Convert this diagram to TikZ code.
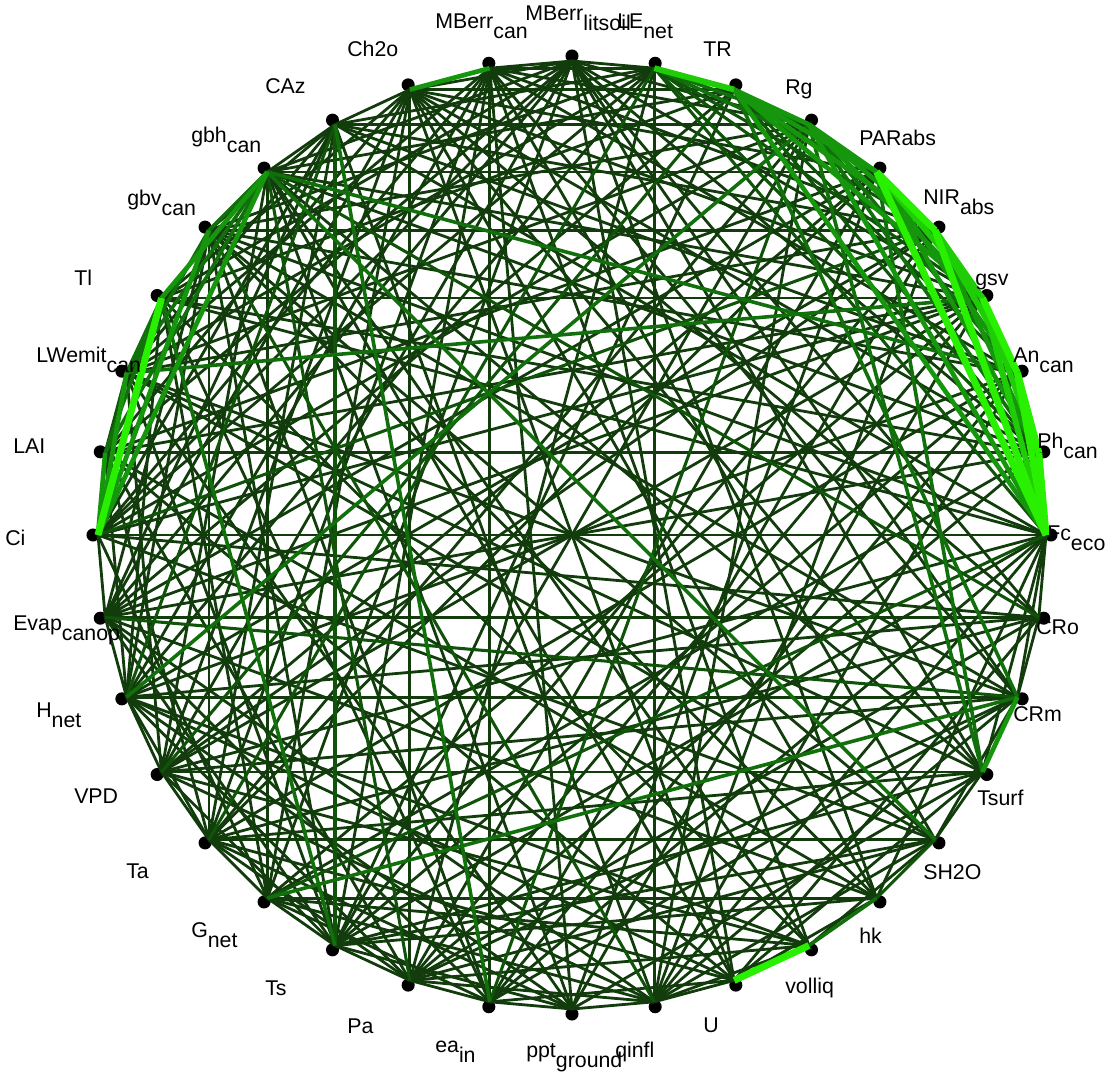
\documentclass[tikz,border=0pt]{standalone}
\usepackage{fontspec}
\setmainfont{Liberation Sans}
\newcommand{\lsb}[1]{\raisebox{-0.5em}{#1}}
\definecolor{cda}{RGB}{18,60,12}
\definecolor{cdb}{RGB}{16,84,10}
\definecolor{cgc}{RGB}{18,112,12}
\definecolor{cgd}{RGB}{22,150,12}
\definecolor{cge}{RGB}{30,205,6}
\definecolor{cgf}{RGB}{40,240,0}
\begin{document}
\begin{tikzpicture}[x=0.75pt,y=-0.75pt,
  lbl/.style={anchor=base west,inner sep=0pt,font=\fontsize{16}{19}\selectfont},
  eda/.style={draw=cda,line width=2.1pt},
  edb/.style={draw=cdb,line width=2.3pt},
  egc/.style={draw=cgc,line width=2.7pt},
  egd/.style={draw=cgd,line width=3.5pt},
  ege/.style={draw=cge,line width=4.4pt},
  egf/.style={draw=cgf,line width=5.2pt}]
\useasboundingbox (0,0) rectangle (1106,1075);
\foreach \k in {0,...,35}{
  \coordinate (n\k) at ({572+474*cos(10*\k)},{535-474*sin(10*\k)});
  \coordinate (d\k) at ({572+479*cos(10*\k)},{535-479*sin(10*\k)});}
\foreach \k in {0,...,35}
  \fill[black] (d\k) circle[radius=4.9pt];
% dark edges
\foreach \a/\b in {0/35,0/34,0/33,0/21,0/26,0/28,0/31,0/12,0/15,0/24,0/18,
 35/34,35/20,35/22,35/25,35/29,35/11,35/9,35/19,
 34/32,34/21,34/25,34/28,34/14,34/10,34/26,34/20,34/9,
 33/32,33/22,33/24,33/29,33/13,33/11,33/21,33/27,33/9,
 32/30,32/24,32/28,32/18,32/10,32/25,32/22,32/16,
 31/29,31/24,31/19,31/17,31/11,31/23,31/9,
 30/28,30/25,30/21,30/15,30/10,30/23,30/20,
 29/28,29/26,29/22,29/17,29/9,29/13,29/20,
 28/27,28/23,28/21,28/19,28/12,28/6,28/4,28/2,28/8,28/25,
 27/26,27/22,27/20,27/16,27/13,27/5,27/3,27/24,
 26/25,26/23,26/19,26/15,26/14,26/4,26/2,26/10,
 25/24,25/20,25/17,25/5,25/3,25/1,25/11,25/22,
 24/23,24/21,24/19,24/16,24/14,24/10,24/4,24/2,
 23/22,23/18,23/15,23/13,23/11,23/9,23/3,23/1,
 22/21,22/17,22/14,22/12,22/10,22/6,22/2,22/20,
 21/20,21/16,21/13,21/11,21/9,21/5,21/3,
 20/19,20/17,20/15,20/10,20/8,20/4,20/14,
 19/18,19/14,19/12,19/9,19/7,19/5,19/3,19/11,
 18/12,18/10,18/8,18/6,18/3,18/9,
 17/11,17/9,17/5,17/3,17/1,
 16/12,16/10,16/8,16/6,16/4,
 15/11,15/9,15/7,15/1,15/3,
 14/12,14/8,14/6,14/2,14/0,14/4,
 13/12,13/9,13/7,13/3,13/1,13/5,
 12/11,12/8,12/4,12/2,12/6,
 11/9,11/5,11/3,11/1,11/7,
 10/8,10/6,10/4,10/9,10/2,
 9/8,9/6,9/3,9/1,
 2/20,6/24,11/29,14/32,16/34,
 4/21,7/24,10/27,13/30,1/19,5/22,8/25,14/31,33/16,35/18}
  \draw[eda] (n\a) -- (n\b);
\foreach \a/\b in {8/4,8/3,8/0,8/1,7/2,7/1,17/16,18/4,19/34,32/31,26/6,24/12,28/14,20/12,22/8,25/13,21/7,0/23,35/13}
  \draw[edb] (n\a) -- (n\b);
\foreach \a/\b in {6/2,6/1,8/6,8/5,31/30,33/5,33/6,34/7,34/23,15/24,20/6,13/32,16/3,12/26,16/15,16/14,17/15,17/13,14/13,16/13,13/2}
  \draw[egc] (n\a) -- (n\b);
\foreach \a/\b in {7/5,7/4,7/3,7/0,6/5,7/6,6/0,6/4,6/3,5/2,5/1,4/1,11/10,34/33,18/17,18/16,18/14,18/13,15/13}
  \draw[egd] (n\a) -- (n\b);
\foreach \a/\b in {3/0,4/3,3/1,4/2,5/3,8/7}
  \draw[ege] (n\a) -- (n\b);
\foreach \a/\b in {5/4,4/0,5/0,2/0,1/0,2/1,3/2,30/29,18/15}
  \draw[egf] (n\a) -- (n\b);
% labels
\node[lbl] (lMBc) at (435,28) {MBerr\lsb{can}};
\node[lbl] (lMBl) at (525,20) {MBerr\lsb{litsoil}};
\node[lbl] (lLE) at (617,28) {LE\lsb{net}};
\node[lbl] (lCh) at (347,56) {Ch2o};
\node[lbl] (lTR) at (703,56) {TR};
\node[lbl] (lRg) at (785,94) {Rg};
\node[lbl] (lPAR) at (859,145) {PARabs};
\node[lbl] (lNIR) at (923,204) {NIR\lsb{abs}};
\node[lbl] (lgsv) at (975,285) {gsv};
\node[lbl] (lAn) at (1013,362) {An\lsb{can}};
\node[lbl] (lPh) at (1037,448) {Ph\lsb{can}};
\node[lbl] (lFc) at (1047,540) {Fc\lsb{eco}};
\node[lbl] (lCRo) at (1036,634) {CRo};
\node[lbl] (lCRm) at (1013,721) {CRm};
\node[lbl] (lTs2) at (977,805) {Tsurf};
\node[lbl] (lSH) at (923,879) {SH2O};
\node[lbl] (lhk) at (859,943) {hk};
\node[lbl] (lvol) at (785,993) {volliq};
\node[lbl] (lU) at (703,1032) {U};
\node[lbl] (lqin) at (615,1057) {qinfl};
\node[lbl] (lppt) at (526,1057) {ppt\lsb{ground}};
\node[lbl] (lea) at (435,1052) {ea\lsb{in}};
\node[lbl] (lPa) at (347,1033) {Pa};
\node[lbl] (lTs) at (265,995) {Ts};
\node[lbl] (lG) at (191,937) {G\lsb{net}};
\node[lbl] (lTa) at (126,878) {Ta};
\node[lbl] (lVPD) at (74,803) {VPD};
\node[lbl] (lH) at (36,717) {H\lsb{net}};
\node[lbl] (lEv) at (13,630) {Evap\lsb{canop}};
\node[lbl] (lCi) at (5,545) {Ci};
\node[lbl] (lLAI) at (13,453) {LAI};
\node[lbl] (lLW) at (36,362) {LWemit\lsb{can}};
\node[lbl] (lTl) at (74,285) {Tl};
\node[lbl] (lgbv) at (127,205) {gbv\lsb{can}};
\node[lbl] (lgbh) at (191,142) {gbh\lsb{can}};
\node[lbl] (lCAz) at (265,93) {CAz};
\end{tikzpicture}
\end{document}
